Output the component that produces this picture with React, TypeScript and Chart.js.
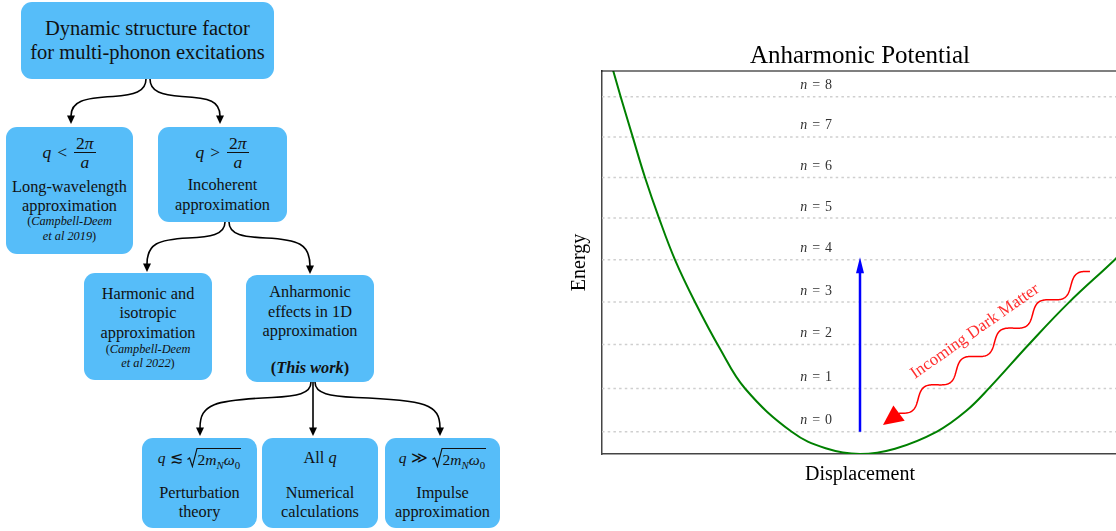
import React, { useEffect, useRef } from 'react';
import { Chart, registerables } from 'chart.js';
Chart.register(...registerables);

// ---------- data ----------
const levelNumbers = [0, 1, 2, 3, 4, 5, 6, 7, 8];
const levelEnergies = [0.58, 1.71, 2.86, 3.97, 5.07, 6.16, 7.22, 8.28, 9.33];
const displacement = [-2.95, -2.869, -2.783, -2.643, -2.5, -2.337, -2.151, -1.919, -1.628, -1.337, -0.794, -0.4, 0, 0.407, 0.895, 1.233, 1.512, 1.965, 2.43, 2.953, 3.05];
const potential = [10.63, 10.0, 9.33, 8.28, 7.22, 6.16, 5.07, 3.97, 2.75, 1.71, 0.58, 0.15, 0, 0.138, 0.586, 1.12, 1.745, 2.865, 3.958, 5.052, 5.29];
const xRange = [-3, 3];
const yRange = [0, 10];
const levelLabelX = -0.51;
const excitationX = 0;
const excitationShaft = [0.58, 4.9];
const excitationTip = 5.14;
const darkMatterStart = [2.674, 4.766];
const darkMatterTip = [0.267, 0.755];
const darkMatterLabel = 'Incoming Dark Matter';
const darkMatterLabelPos = [1.337, 3.2];

const SERIF = '"Liberation Serif", "Times New Roman", serif';
const BOX = '#56bdf9';

const annotPlugin = {
  id: 'annot',
  afterDatasetsDraw(chart: any) {
    const { ctx, chartArea, scales } = chart;
    const x = scales.x, y = scales.y;
    ctx.save();
    // top spine
    ctx.strokeStyle = '#000';
    ctx.lineWidth = 1.2;
    ctx.beginPath();
    ctx.moveTo(chartArea.left - 0.75, chartArea.top);
    ctx.lineTo(chartArea.right, chartArea.top);
    ctx.stroke();

    // level labels
    const lx = x.getPixelForValue(levelLabelX);
    ctx.fillStyle = '#333';
    ctx.textBaseline = 'alphabetic';
    ctx.textAlign = 'left';
    levelNumbers.forEach((n, i) => {
      const py = y.getPixelForValue(levelEnergies[i]) - 7.4;
      ctx.font = `italic 14px ${SERIF}`;
      const wn = ctx.measureText('n').width;
      ctx.font = `14px ${SERIF}`;
      const weq = ctx.measureText('=').width;
      const wd = ctx.measureText(String(n)).width;
      const gap = 5;
      const total = wn + gap + weq + gap + wd;
      let sx = lx - total / 2;
      ctx.font = `italic 14px ${SERIF}`;
      ctx.fillText('n', sx, py);
      sx += wn + gap;
      ctx.font = `14px ${SERIF}`;
      ctx.fillText('=', sx, py);
      sx += weq + gap;
      ctx.fillText(String(n), sx, py);
    });

    // blue arrow head
    const bx = x.getPixelForValue(excitationX);
    const by = y.getPixelForValue(excitationTip);
    ctx.fillStyle = '#0000ff';
    ctx.beginPath();
    ctx.moveTo(bx, by);
    ctx.lineTo(bx - 4, by + 16);
    ctx.lineTo(bx + 4, by + 16);
    ctx.closePath();
    ctx.fill();

    // red wavy arrow
    const sx0 = x.getPixelForValue(darkMatterStart[0]);
    const sy0 = y.getPixelForValue(darkMatterStart[1]);
    const tx = x.getPixelForValue(darkMatterTip[0]);
    const ty = y.getPixelForValue(darkMatterTip[1]);
    const dx = tx - sx0, dy = ty - sy0;
    const L = Math.hypot(dx, dy);
    const ux = dx / L, uy = dy / L;
    const px = -uy, py = ux;
    const headLen = 20, headHalf = 9.5;
    const Lw = L - headLen;
    const periods = 5, amp = 6;
    ctx.strokeStyle = '#ff0000';
    ctx.lineWidth = 1.5;
    ctx.beginPath();
    for (let i = 0; i <= 300; i++) {
      const t = i / 300;
      const s = t * Lw;
      const off = amp * Math.sin(2 * Math.PI * periods * t);
      const X = sx0 + ux * s + px * off;
      const Y = sy0 + uy * s + py * off;
      if (i === 0) ctx.moveTo(X, Y); else ctx.lineTo(X, Y);
    }
    ctx.stroke();
    const baseX = tx - ux * headLen, baseY = ty - uy * headLen;
    ctx.fillStyle = '#ff0000';
    ctx.beginPath();
    ctx.moveTo(tx, ty);
    ctx.lineTo(baseX + px * headHalf, baseY + py * headHalf);
    ctx.lineTo(baseX - px * headHalf, baseY - py * headHalf);
    ctx.closePath();
    ctx.fill();

    // label
    const lpx = x.getPixelForValue(darkMatterLabelPos[0]);
    const lpy = y.getPixelForValue(darkMatterLabelPos[1]);
    ctx.translate(lpx, lpy);
    ctx.rotate(-35 * Math.PI / 180);
    ctx.font = `17px ${SERIF}`;
    ctx.fillStyle = '#ff3030';
    ctx.textAlign = 'center';
    ctx.textBaseline = 'middle';
    ctx.fillText(darkMatterLabel, 0, 0);
    ctx.restore();
  },
};

function PotentialChart() {
  const ref = useRef<HTMLCanvasElement | null>(null);
  useEffect(() => {
    if (!ref.current) return;
    const levelSets = levelEnergies.map((E) => ({
      data: [{ x: xRange[0], y: E }, { x: xRange[1], y: E }],
      borderColor: '#cfcfcf',
      borderWidth: 1.5,
      borderDash: [2.5, 3.2],
      pointRadius: 0,
      showLine: true,
    }));
    const chart = new Chart(ref.current, {
      type: 'scatter',
      data: {
        datasets: [
          {
            data: displacement.map((d, i) => ({ x: d, y: potential[i] })),
            borderColor: '#008000',
            borderWidth: 2,
            pointRadius: 0,
            showLine: true,
            tension: 0.4,
          } as any,
          {
            data: [{ x: excitationX, y: excitationShaft[0] }, { x: excitationX, y: excitationShaft[1] }],
            borderColor: '#0000ff',
            borderWidth: 2.5,
            pointRadius: 0,
            showLine: true,
          },
          ...levelSets,
        ],
      },
      options: {
        animation: false,
        responsive: true,
        maintainAspectRatio: false,
        layout: { padding: { top: 41, left: 7.5, right: 42, bottom: 44 } },
        plugins: {
          legend: { display: false },
          tooltip: { enabled: false },
          title: {
            display: true,
            text: 'Anharmonic Potential',
            fullSize: false,
            color: '#000',
            font: { family: SERIF, size: 25, weight: 'normal', lineHeight: 1.2 },
            padding: { top: 0, bottom: 0 },
          },
        },
        scales: {
          x: {
            type: 'linear',
            min: xRange[0],
            max: xRange[1],
            grid: { display: false, drawTicks: false },
            ticks: { display: false },
            border: { display: true, color: '#444', width: 1.5 },
            title: {
              display: true,
              text: 'Displacement',
              color: '#000',
              font: { family: SERIF, size: 20, weight: 'normal', lineHeight: 1.2 },
              padding: { top: 9, bottom: 0 },
            },
          },
          y: {
            type: 'linear',
            min: yRange[0],
            max: yRange[1],
            grid: { display: false, drawTicks: false },
            ticks: { display: false },
            border: { display: true, color: '#444', width: 1.5 },
            title: {
              display: true,
              text: 'Energy',
              color: '#000',
              font: { family: SERIF, size: 20, weight: 'normal', lineHeight: 1.2 },
              padding: { top: 0, bottom: 10.5 },
            },
          },
        },
      } as any,
      plugins: [annotPlugin],
    });
    return () => chart.destroy();
  }, []);
  return (
    <div style={{ position: 'absolute', left: 560, top: 0, width: 600, height: 531 }}>
      <canvas ref={ref} />
    </div>
  );
}

// ---------- flowchart ----------
function Box({ l, t, w, h }: any) {
  return <div style={{ position: 'absolute', left: l, top: t, width: w, height: h, background: BOX, borderRadius: 11 }} />;
}

function Line({ l, w, cy, size = 16, h = 20, children, style }: any) {
  return (
    <div
      style={{
        position: 'absolute', left: l, width: w, top: cy - h / 2, height: h, lineHeight: h + 'px',
        fontSize: size, textAlign: 'center', whiteSpace: 'nowrap', color: '#111', ...style,
      }}
    >
      {children}
    </div>
  );
}

function MathRow({ l, w, cy, h = 37, children }: any) {
  return (
    <div
      style={{
        position: 'absolute', left: l, width: w, top: cy - h / 2, height: h, display: 'flex',
        justifyContent: 'center', alignItems: 'center', fontSize: 17.5, color: '#111', whiteSpace: 'nowrap',
      }}
    >
      {children}
    </div>
  );
}

function Frac({ num, den }: any) {
  return (
    <span style={{ display: 'inline-flex', flexDirection: 'column', alignItems: 'center', margin: '0 1px' }}>
      <span style={{ lineHeight: '18px', height: 18, padding: '0 2px' }}>{num}</span>
      <span style={{ alignSelf: 'stretch', borderTop: '1px solid #111', height: 0 }} />
      <span style={{ lineHeight: '18px', height: 18 }}>{den}</span>
    </span>
  );
}

function Sqrt({ children }: any) {
  return (
    <span style={{ display: 'inline-flex', alignItems: 'flex-start', height: 20 }}>
      <svg width="11" height="20" viewBox="0 0 11 20" style={{ display: 'block' }}>
        <path d="M0.5 11.5 L2.6 10 L5.4 18.5 L10 0.5 L11 0.5" stroke="#111" strokeWidth="1.1" fill="none" />
      </svg>
      <span style={{ borderTop: '1px solid #111', height: 19, lineHeight: '21px', paddingRight: 1 }}>{children}</span>
    </span>
  );
}

const Sub = ({ children }: any) => (
  <span style={{ fontSize: '70%', position: 'relative', top: 4, lineHeight: 0 }}>{children}</span>
);

const Root2mw = () => (
  <Sqrt>
    2<i>m</i><Sub><i>N</i></Sub><i>ω</i><Sub>0</Sub>
  </Sqrt>
);

function Flowchart() {
  const arrow = (x: number, y: number) => `${x - 4},${y - 8.5} ${x + 4},${y - 8.5} ${x},${y}`;
  const small = { fontSize: 12.3 };
  return (
    <>
      <Box l={21} t={2} w={253} h={77} />
      <Line l={21} w={253} cy={28} size={20.5} h={24}>Dynamic structure factor</Line>
      <Line l={21} w={253} cy={52} size={20.5} h={24}>for multi-phonon excitations</Line>

      <Box l={6} t={127} w={127} h={127} />
      <MathRow l={6} w={127} cy={152}>
        <i>q</i><span style={{ margin: '0 6px' }}>&lt;</span>
        <Frac num={<>2<i>π</i></>} den={<i>a</i>} />
      </MathRow>
      <Line l={6} w={127} cy={186.7} size={16.3}>Long-wavelength</Line>
      <Line l={6} w={127} cy={206} size={16.3}>approximation</Line>
      <Line l={6} w={127} cy={221.5} h={15} style={small}>(<i>Campbell-Deem</i></Line>
      <Line l={6} w={127} cy={236} h={15} style={small}><i>et al 2019</i>)</Line>

      <Box l={158} t={127} w={129} h={95} />
      <MathRow l={158} w={129} cy={152}>
        <i>q</i><span style={{ margin: '0 6px' }}>&gt;</span>
        <Frac num={<>2<i>π</i></>} den={<i>a</i>} />
      </MathRow>
      <Line l={158} w={129} cy={185} size={16.3}>Incoherent</Line>
      <Line l={158} w={129} cy={205} size={16.3}>approximation</Line>

      <Box l={84} t={273} w={128} h={107} />
      <Line l={84} w={128} cy={294.3} size={16.3}>Harmonic and</Line>
      <Line l={84} w={128} cy={313.3} size={16.3}>isotropic</Line>
      <Line l={84} w={128} cy={332.7} size={16.3}>approximation</Line>
      <Line l={84} w={128} cy={349.5} h={15} style={small}>(<i>Campbell-Deem</i></Line>
      <Line l={84} w={128} cy={363} h={15} style={small}><i>et al 2022</i>)</Line>

      <Box l={246} t={275} w={128} h={107} />
      <Line l={246} w={128} cy={292.3} size={16.3}>Anharmonic</Line>
      <Line l={246} w={128} cy={311.7} size={16.3}>effects in 1D</Line>
      <Line l={246} w={128} cy={331} size={16.3}>approximation</Line>
      <Line l={246} w={128} cy={368.3} size={16.3}><b>(</b><b><i>This work</i></b><b>)</b></Line>

      <Box l={142} t={438} w={115} h={90} />
      <MathRow l={142} w={115} cy={458.3} h={22}>
        <span style={{ fontSize: 15.5, display: 'inline-flex', alignItems: 'center' }}>
          <i>q</i><span style={{ margin: '0 4px' }}>≲</span><Root2mw />
        </span>
      </MathRow>
      <Line l={142} w={115} cy={493.3} size={16.3}>Perturbation</Line>
      <Line l={142} w={115} cy={511.7} size={16.3}>theory</Line>

      <Box l={262} t={438} w={116} h={90} />
      <Line l={262} w={116} cy={458.3} size={16.3}>All <i>q</i></Line>
      <Line l={262} w={116} cy={493.3} size={16.3}>Numerical</Line>
      <Line l={262} w={116} cy={511.7} size={16.3}>calculations</Line>

      <Box l={385} t={438} w={115} h={90} />
      <MathRow l={385} w={115} cy={458.3} h={22}>
        <span style={{ fontSize: 15.5, display: 'inline-flex', alignItems: 'center' }}>
          <i>q</i><span style={{ margin: '0 4px' }}>≫</span><Root2mw />
        </span>
      </MathRow>
      <Line l={385} w={115} cy={493.3} size={16.3}>Impulse</Line>
      <Line l={385} w={115} cy={511.7} size={16.3}>approximation</Line>

      <svg width={560} height={531} style={{ position: 'absolute', left: 0, top: 0 }}>
        <g stroke="#000" strokeWidth={1.6} fill="none">
          <path d="M146 79 C146 92 134 95 113 96.5 C84 98 71 101 71 116" />
          <path d="M150 79 C150 92 162 95 182 96.5 C210 98 220 101 220 116" />
          <path d="M225 222 C225 235 210 237 188 238 C158 239.5 147 244 147 264" />
          <path d="M229 222 C229 235 244 237 266 238 C298 239.5 310 244 310 266" />
          <path d="M311 382 C311 394 297 396 272 397.5 C214 400 200 404 200 428" />
          <path d="M313 382 L313 428" />
          <path d="M315 382 C315 394 330 396 356 397.5 C426 400 440 404 440 428" />
        </g>
        <g fill="#000">
          <polygon points={arrow(71, 124)} />
          <polygon points={arrow(220, 124)} />
          <polygon points={arrow(147, 272)} />
          <polygon points={arrow(310, 274)} />
          <polygon points={arrow(200, 436)} />
          <polygon points={arrow(313, 436)} />
          <polygon points={arrow(440, 436)} />
        </g>
      </svg>
    </>
  );
}

export default function App() {
  return (
    <div
      style={{
        position: 'fixed', left: 0, top: 0, width: 1116, height: 531, overflow: 'hidden',
        background: '#fff', fontFamily: SERIF,
      }}
    >
      <Flowchart />
      <PotentialChart />
    </div>
  );
}
